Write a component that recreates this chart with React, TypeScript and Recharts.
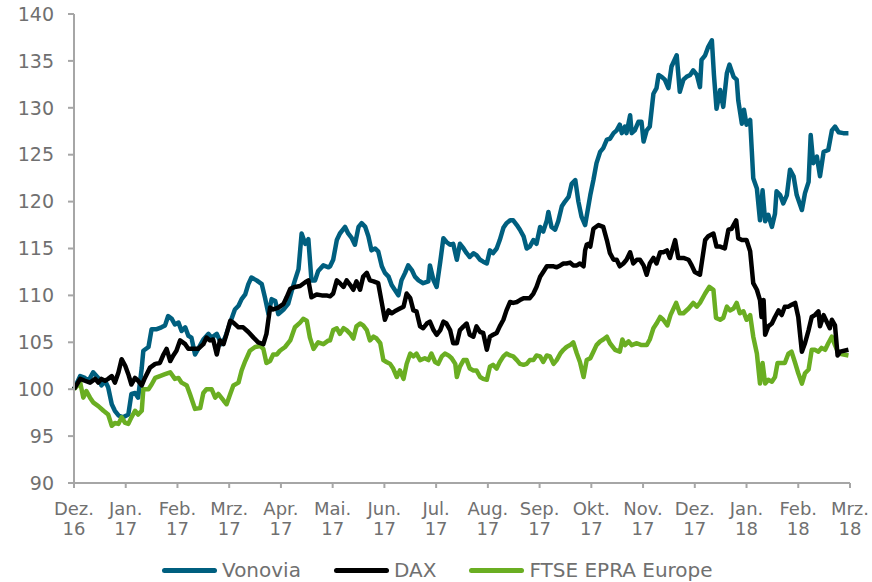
import React from 'react';
import { LineChart, Line, XAxis, YAxis, Legend } from 'recharts';

const monthLabels = ['Dez.', 'Jan.', 'Feb.', 'Mrz.', 'Apr.', 'Mai.', 'Jun.', 'Jul.', 'Aug.', 'Sep.', 'Okt.', 'Nov.', 'Dez.', 'Jan.', 'Feb.', 'Mrz.'];
const yearLabels = ['16', '17', '17', '17', '17', '17', '17', '17', '17', '17', '17', '17', '17', '18', '18', '18'];
const monthTicks = [0, 1, 2, 3, 4, 5, 6, 7, 8, 9, 10, 11, 12, 13, 14, 15];
const yTicks = [90, 95, 100, 105, 110, 115, 120, 125, 130, 135, 140];

const seriesNames = ['Vonovia', 'DAX', 'FTSE EPRA Europe'];
const seriesColors = ['#005F7F', '#000000', '#6AAE22'];

// [month offset from Dez. 16, index value]
const vonoviaRaw: [number, number][] = [
  [0, 100], [0.12, 101.4], [0.21, 101.2], [0.28, 100.9], [0.37, 101.8], [0.47, 101.2], [0.53, 100.4], [0.6, 100.9], [0.66, 100.2], [0.73, 98.4], [0.79, 97.7], [0.86, 97.2], [0.95, 97.0], [1.05, 97.3], [1.11, 99.5], [1.18, 99.6], [1.24, 99.1], [1.31, 102.3], [1.34, 104.1], [1.44, 104.5], [1.5, 106.4], [1.6, 106.4], [1.69, 106.6], [1.76, 106.8], [1.82, 107.8], [1.89, 107.5], [1.95, 106.9], [2.02, 107.1], [2.08, 106.2], [2.15, 106.6], [2.21, 105.7], [2.27, 105.5], [2.34, 103.7], [2.4, 104.3], [2.5, 105.3], [2.6, 105.9], [2.66, 105.5], [2.76, 105.9], [2.85, 104.8], [2.92, 105.5], [3.02, 107.1], [3.11, 108.5], [3.18, 108.9], [3.24, 109.6], [3.31, 110.1], [3.37, 111.2], [3.43, 111.9], [3.53, 111.6], [3.63, 111.2], [3.69, 109.8], [3.76, 108.0], [3.82, 109.6], [3.89, 109.4], [3.95, 108.0], [4.05, 108.5], [4.14, 109.1], [4.21, 110.5], [4.27, 111.6], [4.34, 112.8], [4.4, 116.6], [4.47, 115.5], [4.53, 116.0], [4.59, 111.6], [4.66, 111.6], [4.72, 112.6], [4.82, 113.2], [4.92, 113.0],
  [4.95, 113.1], [5.01, 113.8], [5.08, 115.9], [5.14, 116.6], [5.24, 117.3], [5.3, 116.6], [5.37, 116.1], [5.43, 115.4], [5.5, 117.3], [5.56, 117.7], [5.63, 117.3], [5.69, 116.3], [5.75, 114.8], [5.82, 115.0], [5.88, 114.7], [5.95, 113.1], [6.01, 112.4], [6.08, 112.0], [6.14, 111.1], [6.2, 110.6], [6.27, 110.0], [6.33, 111.6], [6.4, 112.4], [6.46, 113.2], [6.53, 112.7], [6.59, 112.0], [6.66, 111.6], [6.75, 111.3], [6.85, 111.5], [6.88, 113.2], [6.95, 111.6], [7.01, 110.9], [7.08, 113.6], [7.14, 116.1], [7.2, 115.7], [7.27, 115.4], [7.33, 115.5], [7.4, 113.8], [7.46, 115.5], [7.53, 115.0], [7.59, 114.5], [7.65, 114.1], [7.72, 114.5], [7.78, 114.3], [7.85, 113.8], [7.91, 113.6], [7.98, 113.4], [8.04, 114.8], [8.1, 114.5], [8.17, 115.0], [8.23, 115.9], [8.3, 117.2], [8.36, 117.7], [8.43, 118.0], [8.49, 118.0], [8.56, 117.5], [8.62, 117.0], [8.69, 116.3], [8.75, 115.0], [8.81, 115.2], [8.88, 115.9], [8.94, 115.5], [9.01, 117.3], [9.07, 116.8], [9.14, 118.0], [9.17, 118.9], [9.23, 117.3], [9.3, 117.0], [9.36, 117.9], [9.43, 119.5], [9.49, 120.0], [9.56, 120.5], [9.62, 121.9], [9.69, 122.3], [9.75, 120.0], [9.81, 118.4], [9.88, 117.5],
  [9.98, 120.7], [10.04, 122.3], [10.1, 124.1], [10.17, 125.3], [10.23, 125.7], [10.3, 126.6], [10.36, 126.7], [10.43, 127.3], [10.49, 127.6], [10.55, 128.2], [10.59, 127.3], [10.65, 128.0], [10.68, 127.3], [10.75, 129.2], [10.78, 127.3], [10.84, 127.6], [10.91, 128.5], [10.97, 128.5], [11.01, 126.4], [11.07, 127.6], [11.13, 128.0], [11.2, 131.5], [11.26, 132.1], [11.3, 133.5], [11.36, 133.3], [11.42, 133.0], [11.49, 132.1], [11.55, 134.4], [11.65, 135.6], [11.71, 131.7], [11.78, 133.0], [11.84, 133.3], [11.91, 133.5], [11.97, 134.0], [12.04, 133.5], [12.1, 132.2], [12.13, 135.1], [12.2, 135.6], [12.26, 136.5], [12.33, 137.2], [12.37, 133.5], [12.42, 129.9], [12.49, 131.9], [12.55, 130.1], [12.62, 133.7], [12.67, 134.6], [12.75, 133.3], [12.81, 133.0], [12.84, 130.8], [12.91, 128.3], [12.95, 129.8], [13.0, 128.2], [13.07, 128.7], [13.13, 122.5], [13.2, 121.4], [13.26, 118.0], [13.31, 121.2], [13.36, 117.9], [13.42, 118.6], [13.49, 117.3], [13.55, 118.7], [13.58, 121.1], [13.65, 120.7], [13.71, 119.8], [13.78, 120.7], [13.84, 123.4], [13.91, 122.7], [13.97, 120.7], [14.07, 119.1], [14.13, 120.9], [14.2, 122.1], [14.24, 127.1], [14.29, 124.1], [14.36, 124.8], [14.42, 122.7], [14.49, 125.3], [14.58, 125.5], [14.65, 127.6], [14.71, 128.0], [14.78, 127.4], [14.87, 127.3], [14.97, 127.3],
];

const daxRaw: [number, number][] = [
  [0, 100], [0.12, 101.1], [0.21, 100.9], [0.31, 100.7], [0.41, 101.1], [0.47, 100.7], [0.53, 101.1], [0.6, 100.9], [0.66, 101.1], [0.73, 101.4], [0.79, 100.7], [0.86, 101.8], [0.92, 103.2], [0.99, 102.5], [1.05, 101.6], [1.11, 100.5], [1.18, 101.2], [1.24, 100.9], [1.31, 100.4], [1.37, 101.2], [1.47, 102.3], [1.57, 102.7], [1.66, 102.8], [1.73, 103.7], [1.79, 104.3], [1.86, 103.0], [1.92, 103.6], [1.98, 104.1], [2.05, 105.2], [2.15, 104.8], [2.21, 104.3], [2.31, 104.3], [2.4, 104.3], [2.5, 104.8], [2.56, 105.5], [2.63, 105.2], [2.69, 105.3], [2.76, 103.7], [2.82, 105.2], [2.89, 104.8], [2.95, 105.9], [3.02, 107.3], [3.08, 107.1], [3.18, 106.6], [3.27, 106.6], [3.37, 106.1], [3.47, 105.5], [3.56, 105.0], [3.66, 104.8], [3.72, 105.9], [3.79, 108.7], [3.85, 108.5], [3.95, 108.7], [4.05, 109.1], [4.11, 109.8], [4.18, 110.7], [4.27, 110.9], [4.37, 111.0], [4.47, 111.4], [4.53, 111.6], [4.59, 109.8], [4.69, 110.1], [4.79, 110.0], [4.88, 110.0],
  [4.95, 109.9], [5.01, 110.2], [5.08, 111.6], [5.14, 111.3], [5.21, 110.9], [5.27, 111.6], [5.34, 111.1], [5.4, 110.6], [5.46, 111.5], [5.53, 110.6], [5.59, 112.0], [5.66, 112.4], [5.72, 111.6], [5.79, 111.5], [5.88, 111.3], [5.95, 109.2], [6.01, 107.4], [6.08, 108.4], [6.14, 108.1], [6.2, 108.3], [6.3, 108.6], [6.37, 108.8], [6.43, 110.2], [6.5, 109.7], [6.56, 108.4], [6.62, 108.3], [6.69, 106.7], [6.75, 106.5], [6.82, 107.0], [6.88, 107.2], [6.95, 106.3], [7.01, 105.8], [7.08, 106.3], [7.14, 107.2], [7.2, 107.0], [7.27, 106.3], [7.33, 104.9], [7.4, 104.9], [7.46, 106.3], [7.53, 106.7], [7.59, 107.0], [7.65, 105.8], [7.72, 105.6], [7.78, 106.7], [7.85, 106.1], [7.91, 106.0], [7.98, 104.2], [8.04, 105.6], [8.1, 105.8], [8.17, 106.0], [8.23, 106.7], [8.3, 107.4], [8.36, 108.4], [8.43, 109.3], [8.49, 109.2], [8.56, 109.3], [8.62, 109.5], [8.69, 109.7], [8.75, 109.7], [8.81, 109.7], [8.88, 110.2], [8.94, 110.9], [9.01, 112.0], [9.07, 112.5], [9.14, 113.1], [9.2, 113.1], [9.27, 113.1], [9.33, 113.0], [9.4, 113.2], [9.46, 113.4], [9.52, 113.4], [9.59, 113.5], [9.65, 113.2], [9.72, 113.2], [9.78, 113.4], [9.85, 113.1], [9.88, 114.8], [9.91, 115.4], [9.94, 115.5],
  [9.98, 115.2], [10.04, 117.1], [10.14, 117.5], [10.23, 117.3], [10.3, 115.9], [10.36, 114.5], [10.43, 113.8], [10.49, 113.8], [10.55, 113.1], [10.62, 113.4], [10.68, 113.8], [10.75, 114.6], [10.81, 113.4], [10.88, 113.8], [10.94, 113.8], [11.01, 113.2], [11.07, 112.2], [11.13, 113.4], [11.2, 114.0], [11.26, 113.4], [11.33, 114.6], [11.39, 114.6], [11.46, 114.8], [11.52, 114.0], [11.62, 115.9], [11.68, 114.0], [11.78, 114.0], [11.88, 113.8], [11.94, 113.2], [12.0, 112.5], [12.1, 112.2], [12.2, 115.9], [12.26, 116.3], [12.36, 116.6], [12.42, 115.2], [12.49, 115.2], [12.58, 115.0], [12.65, 117.0], [12.71, 117.1], [12.8, 118.0], [12.84, 116.1], [12.91, 115.9], [13.0, 115.9], [13.07, 114.7], [13.13, 111.3], [13.2, 110.6], [13.26, 109.5], [13.29, 107.7], [13.33, 109.5], [13.36, 105.8], [13.42, 106.7], [13.49, 107.0], [13.55, 107.7], [13.62, 108.4], [13.68, 107.9], [13.74, 108.8], [13.81, 108.8], [13.87, 109.0], [13.94, 109.2], [14.0, 107.7], [14.07, 104.0], [14.13, 104.9], [14.2, 106.3], [14.26, 107.7], [14.32, 107.9], [14.39, 108.3], [14.42, 106.7], [14.49, 107.9], [14.55, 107.2], [14.61, 106.5], [14.65, 107.4], [14.71, 106.8], [14.76, 103.6], [14.81, 104.0], [14.97, 104.2],
];

const ftseRaw: [number, number][] = [
  [0, 100], [0.12, 100.7], [0.18, 99.1], [0.24, 99.8], [0.31, 99.1], [0.37, 98.6], [0.47, 98.2], [0.57, 97.7], [0.66, 97.3], [0.73, 96.1], [0.79, 96.4], [0.86, 96.3], [0.92, 97.0], [0.99, 96.4], [1.05, 96.3], [1.11, 97.0], [1.18, 97.7], [1.24, 97.3], [1.31, 97.7], [1.34, 100.0], [1.44, 100.0], [1.5, 100.5], [1.57, 101.2], [1.66, 101.4], [1.76, 101.6], [1.86, 101.8], [1.95, 101.1], [2.02, 101.2], [2.08, 100.7], [2.18, 100.4], [2.24, 99.5], [2.34, 97.9], [2.44, 98.0], [2.5, 99.6], [2.56, 100.0], [2.66, 100.0], [2.73, 99.1], [2.79, 99.5], [2.89, 98.8], [2.95, 98.4], [3.02, 99.5], [3.08, 100.4], [3.18, 100.7], [3.24, 102.0], [3.31, 103.0], [3.4, 104.1], [3.5, 104.5], [3.6, 104.6], [3.66, 104.3], [3.72, 102.8], [3.79, 103.0], [3.85, 103.7], [3.92, 103.7], [3.98, 104.1], [4.08, 104.5], [4.18, 105.2], [4.27, 106.6], [4.37, 107.1], [4.43, 107.5], [4.5, 107.3], [4.56, 105.5], [4.63, 104.3], [4.72, 105.0], [4.82, 104.8], [4.92, 105.2],
  [4.95, 105.2], [5.01, 106.3], [5.08, 106.5], [5.14, 105.9], [5.21, 106.5], [5.27, 106.3], [5.34, 105.9], [5.4, 105.4], [5.46, 106.7], [5.53, 107.0], [5.59, 106.8], [5.66, 106.3], [5.72, 105.2], [5.79, 105.6], [5.85, 105.4], [5.92, 104.9], [5.98, 103.1], [6.04, 102.9], [6.11, 102.7], [6.17, 102.2], [6.24, 101.3], [6.3, 102.0], [6.37, 101.1], [6.43, 102.7], [6.5, 103.8], [6.56, 103.5], [6.62, 103.8], [6.69, 103.1], [6.78, 103.3], [6.85, 103.1], [6.91, 103.8], [6.98, 102.9], [7.04, 102.7], [7.11, 103.5], [7.17, 103.8], [7.24, 103.6], [7.3, 103.3], [7.37, 102.7], [7.4, 101.3], [7.46, 102.4], [7.53, 103.1], [7.59, 103.1], [7.65, 102.2], [7.72, 102.0], [7.78, 102.0], [7.85, 101.3], [7.91, 101.1], [7.98, 101.0], [8.04, 102.4], [8.1, 102.6], [8.17, 102.2], [8.23, 102.9], [8.3, 103.5], [8.36, 103.8], [8.43, 103.6], [8.49, 103.5], [8.56, 103.1], [8.62, 102.7], [8.69, 102.6], [8.75, 102.7], [8.81, 103.1], [8.88, 103.1], [8.94, 103.6], [9.01, 103.5], [9.07, 102.9], [9.14, 103.6], [9.2, 103.5], [9.27, 102.7], [9.33, 103.1], [9.4, 103.8], [9.46, 104.2], [9.52, 104.5], [9.59, 104.7], [9.65, 105.0], [9.72, 103.8], [9.78, 102.9], [9.85, 101.3], [9.91, 103.1],
  [9.98, 103.3], [10.04, 104.0], [10.1, 104.7], [10.17, 105.1], [10.23, 105.3], [10.3, 105.6], [10.36, 104.9], [10.46, 104.2], [10.55, 104.0], [10.6, 105.3], [10.65, 104.7], [10.72, 105.1], [10.78, 104.7], [10.88, 104.9], [10.97, 104.7], [11.07, 104.7], [11.13, 105.3], [11.2, 106.5], [11.26, 107.0], [11.33, 107.7], [11.39, 107.4], [11.47, 106.8], [11.53, 107.9], [11.64, 109.2], [11.71, 108.1], [11.78, 108.1], [11.88, 108.6], [11.97, 109.2], [12.04, 108.8], [12.1, 109.2], [12.2, 110.2], [12.28, 110.9], [12.36, 110.6], [12.41, 107.6], [12.49, 107.4], [12.55, 107.6], [12.62, 108.8], [12.68, 108.4], [12.75, 108.6], [12.81, 109.2], [12.87, 108.1], [12.94, 108.3], [13.0, 107.4], [13.07, 107.9], [13.13, 105.6], [13.2, 103.8], [13.26, 100.6], [13.31, 102.8], [13.36, 100.6], [13.42, 101.0], [13.49, 100.8], [13.55, 101.3], [13.6, 102.8], [13.68, 102.8], [13.74, 102.8], [13.81, 103.8], [13.87, 104.0], [13.94, 102.8], [14.0, 101.7], [14.07, 100.6], [14.13, 101.7], [14.2, 102.1], [14.26, 104.2], [14.32, 104.2], [14.39, 104.0], [14.45, 104.4], [14.52, 104.2], [14.58, 104.9], [14.65, 105.6], [14.71, 104.7], [14.78, 103.8], [14.97, 103.6],
];

const toPts = (a: [number, number][]) => a.map(([t, v]) => ({ t, v }));
const vonovia = toPts(vonoviaRaw);
const dax = toPts(daxRaw);
const ftse = toPts(ftseRaw);

const FONT = "'DejaVu Sans', Verdana, sans-serif";
const TEXT = '#707070';
const AXIS = '#a6a6a6';

const MonthTick = (props: any) => {
  const { x, y, payload } = props;
  const i = monthTicks.indexOf(payload.value);
  return (
    <g>
      <text x={x} y={y} textAnchor="middle" fill={TEXT} fontSize={18} fontFamily={FONT}>
        <tspan x={x} dy={25}>{monthLabels[i]}</tspan>
        <tspan x={x} dy={20}>{yearLabels[i]}</tspan>
      </text>
    </g>
  );
};

const LegendContent = () => (
  <div style={{ display: 'flex', alignItems: 'center', fontFamily: FONT, fontSize: 20, color: TEXT, whiteSpace: 'nowrap' }}>
    {seriesNames.map((n, i) => (
      <div key={n} style={{ display: 'flex', alignItems: 'center', marginRight: i < seriesNames.length - 1 ? 33 : 0 }}>
        <div style={{ width: 55, height: 5, borderRadius: 3, background: seriesColors[i], marginRight: 5 }} />
        <span>{n}</span>
      </div>
    ))}
  </div>
);

export default function App() {
  return (
    <div style={{ width: 872, height: 582, overflow: 'hidden' }}>
      <style>{'html,body{margin:0;padding:0;overflow:hidden;}'}</style>
      <LineChart width={872} height={582} margin={{ top: 14, right: 22, bottom: 0, left: 8 }}>
        <XAxis
          type="number"
          dataKey="t"
          domain={[0, 15]}
          ticks={monthTicks}
          interval={0}
          height={99}
          tickSize={5}
          tickMargin={2}
          axisLine={{ stroke: AXIS, strokeWidth: 2 }}
          tickLine={{ stroke: AXIS, strokeWidth: 2 }}
          tick={<MonthTick />}
        />
        <YAxis
          type="number"
          domain={[90, 140]}
          ticks={yTicks}
          interval={0}
          width={66}
          tickSize={6}
          tickMargin={14}
          axisLine={{ stroke: AXIS, strokeWidth: 2 }}
          tickLine={{ stroke: AXIS, strokeWidth: 2 }}
          tick={{ fill: TEXT, fontSize: 19, fontFamily: FONT }}
        />
        <Legend
          layout="horizontal"
          verticalAlign="middle"
          align="center"
          wrapperStyle={{ top: 558, left: 162, width: 600 }}
          content={<LegendContent />}
        />
        <Line data={vonovia} dataKey="v" name={seriesNames[0]} type="linear" stroke={seriesColors[0]} strokeWidth={4.5} dot={false} strokeLinejoin="round" isAnimationActive={false} />
        <Line data={ftse} dataKey="v" name={seriesNames[2]} type="linear" stroke={seriesColors[2]} strokeWidth={4.5} dot={false} strokeLinejoin="round" isAnimationActive={false} />
        <Line data={dax} dataKey="v" name={seriesNames[1]} type="linear" stroke={seriesColors[1]} strokeWidth={4.5} dot={false} strokeLinejoin="round" isAnimationActive={false} />
      </LineChart>
    </div>
  );
}
